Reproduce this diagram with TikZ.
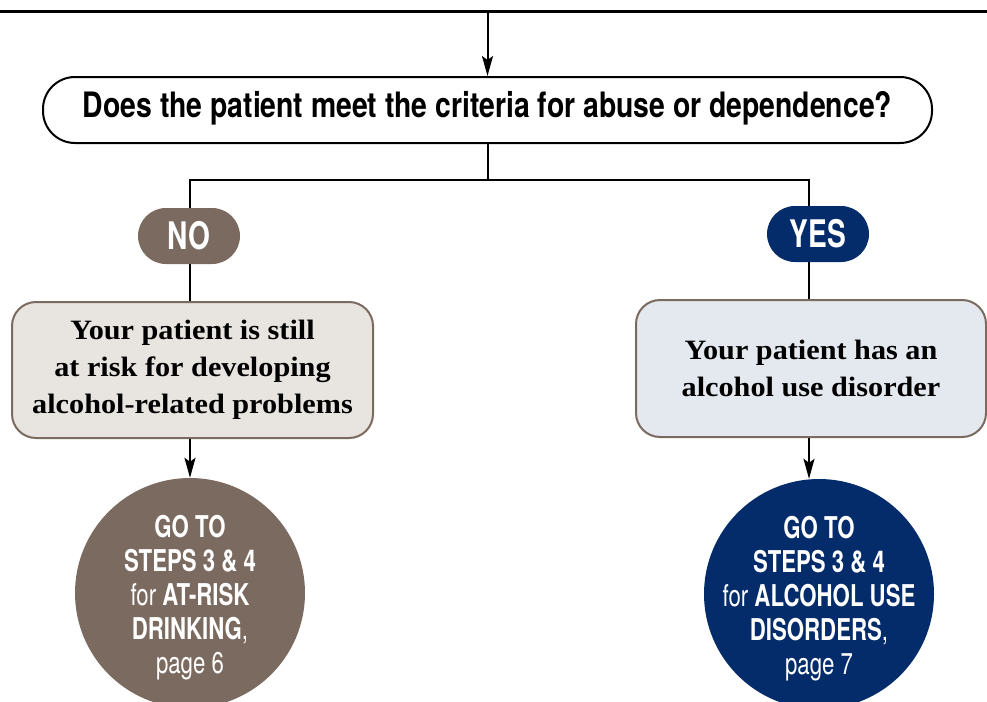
\documentclass[tikz,border=0pt]{standalone}
\usepackage{fontspec}
\setmainfont[FakeStretch=1.08]{Liberation Serif}
\newfontfamily\cond[FakeStretch=0.74]{TeX Gyre Heros}
\newfontfamily\condq[FakeStretch=0.81]{TeX Gyre Heros}
\usetikzlibrary{arrows.meta}
\definecolor{brn}{RGB}{123,106,96}
\definecolor{nvy}{RGB}{4,43,106}
\definecolor{lbrn}{RGB}{232,228,224}
\definecolor{lblu}{RGB}{228,232,239}
\tikzset{
  ln/.style={line width=2pt, black},
  arr/.style={line width=2pt, black, -{Stealth[length=20pt,width=11pt,inset=4pt]}},
  qbox/.style={draw=black, line width=2pt, fill=white, rounded corners=32pt,
    minimum width=889pt, minimum height=66pt, inner sep=0pt},
  qtext/.style={inner sep=0pt, font=\condq\bfseries\fontsize{35}{40}\selectfont},
  pill/.style={rounded corners=28pt, minimum width=102pt, minimum height=56pt,
    inner sep=0pt, text=white, font=\cond\bfseries\fontsize{38}{40}\selectfont},
  infobox/.style={line width=2pt, draw=brn, rounded corners=24pt, inner sep=0pt,
    align=center, font=\bfseries\fontsize{28}{37}\selectfont},
  goto/.style={circle, minimum size=230pt, inner sep=0pt},
  gototext/.style={inner sep=0pt, text=white, align=center,
    font=\cond\bfseries\fontsize{30}{34}\selectfont}
}
\begin{document}
\begin{tikzpicture}[x=1pt,y=-1pt]
\useasboundingbox (0,0) rectangle (987,701);
\clip (0,0) rectangle (987,701);
\fill[white] (0,0) rectangle (987,701);

\coordinate (tl) at (0,12);
\coordinate (tr) at (987,12);
\coordinate (top) at (487.5,12);
\coordinate (bl) at (190,180);
\coordinate (br) at (809,180);

\node[qbox] (q) at (487.5,110) {};
\node[qtext] (qt) at ([yshift=2pt]q.center) {Does the patient meet the criteria for abuse or dependence?};
\node[pill, fill=brn] (no) at (189,236) {NO};
\node[pill, fill=nvy] (yes) at (818,234) {YES};
\node[infobox, fill=lbrn, minimum width=361pt, minimum height=136pt] (lb) at (192.5,370)
  {Your patient is still\\at risk for developing\\alcohol-related problems};
\node[infobox, fill=lblu, minimum width=350pt, minimum height=137pt] (rb) at (811,368.5)
  {Your patient has an\\alcohol use disorder};
\node[goto, fill=brn] (lc) at (190,593) {};
\node[goto, fill=nvy] (rc) at (819,594) {};
\node[gototext] (lt) at ([yshift=-5pt]lc.center)
  {GO TO\\STEPS 3 \& 4\\{\mdseries for} AT-RISK\\DRINKING{\mdseries,}\\{\mdseries page 6}};
\node[gototext] (rt) at ([yshift=-5pt]rc.center)
  {GO TO\\STEPS 3 \& 4\\{\mdseries for} ALCOHOL USE\\DISORDERS{\mdseries,}\\{\mdseries page 7}};

\draw[line width=3pt] (tl) -- (tr);
\draw[arr] (top) -- (q.north);
\draw[ln] (q.south) -- (q.south |- bl);
\draw[ln] (bl |- no.north) -- (bl) -- (br) -- (br |- yes.north);
\draw[ln] (bl |- no.south) -- (bl |- lb.north);
\draw[ln] (br |- yes.south) -- (br |- rb.north);
\draw[arr] (bl |- lb.south) -- (bl |- lc.north);
\draw[arr] (br |- rb.south) -- (br |- rc.north);
\end{tikzpicture}
\end{document}
